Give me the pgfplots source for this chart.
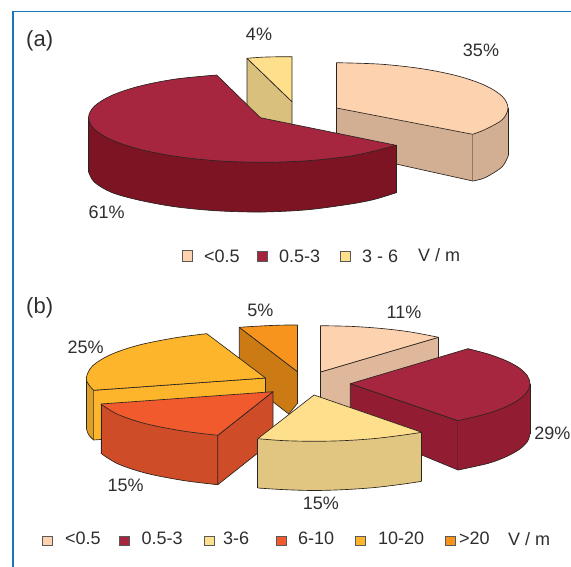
\documentclass[border=0pt]{standalone}
\usepackage{fontspec}
\setmainfont{Liberation Sans}
\usepackage{pgfplots}
\pgfplotsset{compat=1.18}
\definecolor{framec}{HTML}{1A75BB}
\definecolor{txt}{HTML}{2E2E2E}
\definecolor{edge}{HTML}{2A2420}
\definecolor{peach}{HTML}{FDD2AF}
\definecolor{peachA}{HTML}{D2AE92}
\definecolor{peachB}{HTML}{DFB89C}
\definecolor{wine}{HTML}{A5263E}
\definecolor{wineA}{HTML}{7D1423}
\definecolor{wineB}{HTML}{921D32}
\definecolor{straw}{HTML}{FDDF8C}
\definecolor{strawA}{HTML}{D9C07C}
\definecolor{strawB}{HTML}{E0C681}
\definecolor{vermil}{HTML}{F15A2C}
\definecolor{vermilB}{HTML}{CE4C27}
\definecolor{gold}{HTML}{FDB52B}
\definecolor{goldB}{HTML}{DDA024}
\definecolor{amber}{HTML}{F7941D}
\definecolor{amberB}{HTML}{CB7A14}
\pgfplotsset{
  % flat: body of a face; curve: its elliptical rim; rim: its straight edges
  flat/.style={fill=#1,draw=none,mark=none,forget plot},
  curve/.style={fill=#1,draw=edge,line width=0.65pt,smooth,tension=0.55,mark=none,forget plot},
  bulge/.style={fill=#1,draw=none,smooth,tension=0.55,mark=none,forget plot},
  outline/.style={fill=none,draw=edge,line width=0.65pt,smooth,tension=0.55,mark=none,forget plot},
  rim/.style={draw=edge,line width=0.65pt,line join=round,mark=none,forget plot},
  swatch/.style={fill=#1,draw=black!65,line width=0.9pt,mark=none,forget plot}
}
\tikzset{
  lbl/.style={font=\fontsize{18}{20}\selectfont,text=txt,inner sep=0pt},
  big/.style={font=\fontsize{22}{24}\selectfont,text=txt,inner sep=0pt,anchor=west}
}
\begin{document}
\begin{tikzpicture}
\useasboundingbox (0,0) rectangle (571pt,567pt);
\clip (0,0) rectangle (571pt,567pt);
\begin{axis}[at={(0,0)},anchor=south west,scale only axis,width=571pt,height=567pt,
  xmin=0,xmax=571,ymin=0,ymax=567,y dir=reverse,hide axis,clip=false]
% panel rule
\addplot[framec,line width=1.1pt,mark=none,forget plot] coordinates {(13,567) (13,11.8) (571,11.8)};

% ---------- panel (a): <0.5 35%, 0.5-3 61%, 3-6 4% ----------
% <0.5
\addplot[flat=peachA] coordinates {(336.5,108) (472.7,134.3) (472.7,181) (396,164) (336.5,150)} --cycle;
\addplot[rim] coordinates {(336.5,150) (336.5,108)};
\addplot[rim] coordinates {(336.5,150) (396,164) (472.7,181) (472.7,134.3)};
\addplot[flat=peachA] coordinates {(472.7,134.3) (508,108) (508.5,155) (502.2,166.7) (485,177.7) (472.7,181)} --cycle;
\addplot[curve=peachA] coordinates {(508.5,155) (502.2,166.7) (485,177.7) (472.7,181)};
\addplot[rim] coordinates {(508.5,108) (508.5,155)};
\addplot[flat=peach] coordinates {(336.5,62.7) (380.9,64.2) (422.3,68.8) (457.8,76) (485,85.4) (502.2,96.3) (508,108) (502.2,119.7) (485,129.5) (472.7,134.3) (336.5,108)} --cycle;
\addplot[curve=peach] coordinates {(336.5,62.7) (380.9,64.2) (422.3,68.8) (457.8,76) (485,85.4) (502.2,96.3) (508,108) (502.2,119.7) (485,129.5) (472.7,134.3)};
\addplot[rim] coordinates {(472.7,134.3) (336.5,108) (336.5,62.7)};
% 3-6
\addplot[flat=strawA] coordinates {(247,58.3) (292,101.7) (292,124) (260.4,117.7) (247,105)} --cycle;
\addplot[rim] coordinates {(247,105) (247,58.3) (292,101.7) (292,124)};
\addplot[flat=straw] coordinates {(247,58.3) (262,57.2) (277,56.8) (292,56.7) (292,101.7)} --cycle;
\addplot[curve=straw] coordinates {(247,58.3) (262,57.2) (277,56.8) (292,56.7)};
\addplot[rim] coordinates {(292,56.7) (292,101.7) (247,58.3)};
% 0.5-3
\addplot[flat=wineA] coordinates {(88.5,117.7) (88.5,171.7) (94.4,182.2) (111.8,192.5) (139.3,200.2) (175.3,206.8) (217.1,210.8) (262,212) (306.9,209.8) (348.8,204.3) (373.5,199.6) (396.2,192.7) (396.2,145.3) (262,140)} --cycle;
\addplot[curve=wineA] coordinates {(88.5,171.7) (94.4,182.2) (111.8,192.5) (139.3,200.2) (175.3,206.8) (217.1,210.8) (262,212) (306.9,209.8) (348.8,204.3) (373.5,199.6) (396.2,192.7)};
\addplot[rim] coordinates {(88.5,117.7) (88.5,171.7)};
\addplot[rim] coordinates {(396.2,145.3) (396.2,192.7)};
\addplot[flat=wine] coordinates {(216.7,75) (175.3,79.1) (139.3,86.2) (111.8,95.4) (94.4,106.2) (88.5,117.7) (94.4,129.2) (111.8,140) (139.3,149.2) (175.3,156.3) (217.1,160.8) (262,162.3) (306.9,160.8) (348.8,156.3) (373.5,151.2) (396.2,145.3) (260.4,117.7)} --cycle;
\addplot[bulge=wine] coordinates {(216.7,75) (175.3,79.1) (139.3,86.2) (111.8,95.4) (94.4,106.2) (88.5,117.7) (94.4,129.2) (111.8,140) (139.3,149.2)};
\addplot[bulge=wine] coordinates {(139.3,149.2) (175.3,156.3) (217.1,160.8) (262,162.3) (306.9,160.8) (348.8,156.3) (373.5,151.2) (396.2,145.3)};
\addplot[outline] coordinates {(216.7,75) (175.3,79.1) (139.3,86.2) (111.8,95.4) (94.4,106.2) (88.5,117.7) (94.4,129.2) (111.8,140) (139.3,149.2) (175.3,156.3) (217.1,160.8) (262,162.3) (306.9,160.8) (348.8,156.3) (373.5,151.2) (396.2,145.3)};
\addplot[rim] coordinates {(396.2,145.3) (260.4,117.7) (216.7,75)};

\addplot[swatch=peach] coordinates {(182,250.5) (192.5,250.5) (192.5,261) (182,261)} --cycle;
\addplot[swatch=wine] coordinates {(257.5,251) (267.5,251) (267.5,261.5) (257.5,261.5)} --cycle;
\addplot[swatch=straw] coordinates {(340.5,251) (350.5,251) (350.5,261.5) (340.5,261.5)} --cycle;

% ---------- panel (b): six classes, back slices first ----------
% <0.5
\addplot[flat=peachB] coordinates {(320.5,372) (438.5,337.3) (438.5,400) (320.5,412)} --cycle;
\addplot[rim] coordinates {(320.5,412) (320.5,372) (438.5,337.3) (438.5,400)};
\addplot[flat=peach] coordinates {(320.5,325.7) (351.6,326.4) (381.6,328.5) (409.9,331.9) (438.5,337.3) (320.5,372)} --cycle;
\addplot[curve=peach] coordinates {(320.5,325.7) (351.6,326.4) (381.6,328.5) (409.9,331.9) (438.5,337.3)};
\addplot[rim] coordinates {(438.5,337.3) (320.5,372) (320.5,325.7)};
% 0.5-3
\addplot[flat=wineB] coordinates {(350.3,383.7) (458,420.7) (458,470) (421.7,455) (350.3,430)} --cycle;
\addplot[rim] coordinates {(350.3,430) (350.3,383.7) (458,420.7) (458,470) (421.7,455)};
\addplot[flat=wineB] coordinates {(458,420.7) (530,383.7) (530,434) (527.3,441.7) (519.2,449.5) (505.9,456.8) (488,463.4) (458,470)} --cycle;
\addplot[curve=wineB] coordinates {(530,434) (527.3,441.7) (519.2,449.5) (505.9,456.8) (488,463.4) (458,470)};
\addplot[rim] coordinates {(530,383.7) (530,434)};
\addplot[flat=wine] coordinates {(468,348.7) (488,354) (505.9,360.6) (519.2,367.9) (527.3,375.7) (530,383.7) (527.3,391.7) (519.2,399.5) (505.9,406.8) (488,413.4) (458,420.7) (350.3,383.7)} --cycle;
\addplot[curve=wine] coordinates {(468,348.7) (488,354) (505.9,360.6) (519.2,367.9) (527.3,375.7) (530,383.7) (527.3,391.7) (519.2,399.5) (505.9,406.8) (488,413.4) (458,420.7)};
\addplot[rim] coordinates {(458,420.7) (350.3,383.7) (468,348.7)};
% >20
\addplot[flat=amberB] coordinates {(239.3,327.3) (297.5,371.7) (297.5,403.3) (288.8,414) (239.3,376)} --cycle;
\addplot[rim] coordinates {(239.3,376) (239.3,327.3) (297.5,371.7) (297.5,403.3) (288.8,414) (239.3,376)};
\addplot[flat=amber] coordinates {(239.3,327.3) (253.8,326.4) (268.5,325.6) (282.5,325.1) (297.5,325) (297.5,371.7)} --cycle;
\addplot[curve=amber] coordinates {(239.3,327.3) (253.8,326.4) (268.5,325.6) (282.5,325.1) (297.5,325)};
\addplot[rim] coordinates {(297.5,325) (297.5,371.7) (239.3,327.3)};
% 10-20
\addplot[flat=goldB] coordinates {(86.3,378) (93.6,390.3) (93.6,440) (90.2,437.7) (86.3,428)} --cycle;
\addplot[curve=goldB] coordinates {(86.3,428) (88.5,434.5) (93.6,440)};
\addplot[rim] coordinates {(86.3,378) (86.3,428)};
\addplot[flat=gold] coordinates {(93.6,390.3) (265.5,378) (265.5,428) (93.6,440)} --cycle;
\addplot[rim] coordinates {(93.6,440) (93.6,390.3) (265.5,378) (265.5,428) (93.6,440)};
\addplot[flat=gold] coordinates {(206.8,333.7) (175.9,337.7) (138.8,345.1) (110.3,354.8) (92.4,366) (86.3,378) (90.2,386.5) (93.6,390.3) (265.5,378)} --cycle;
\addplot[curve=gold] coordinates {(206.8,333.7) (175.9,337.7) (138.8,345.1) (110.3,354.8) (92.4,366) (86.3,378) (89,385) (93.6,390.3)};
\addplot[rim] coordinates {(93.6,390.3) (265.5,378) (206.8,333.7)};
% 6-10
\addplot[flat=vermilB] coordinates {(100.9,404) (118,414.5) (146.4,423.9) (183.5,431.1) (217.8,435.3) (217.8,484.7) (183.5,480.5) (146.4,473.3) (118,463.9) (100.9,453.3)} --cycle;
\addplot[curve=vermilB] coordinates {(100.9,453.3) (118,463.9) (146.4,473.3) (183.5,480.5) (217.8,484.7)};
\addplot[rim] coordinates {(100.9,404) (100.9,453.3)};
\addplot[flat=vermilB] coordinates {(217.8,435.3) (273,391.7) (273,441) (217.8,484.7)} --cycle;
\addplot[rim] coordinates {(273,441) (273,391.7) (217.8,435.3) (217.8,484.7) (273,441)};
\addplot[flat=vermil] coordinates {(273,391.7) (100.9,404) (118,414.5) (146.4,423.9) (183.5,431.1) (217.8,435.3)} --cycle;
\addplot[curve=vermil] coordinates {(100.9,404) (118,414.5) (146.4,423.9) (183.5,431.1) (217.8,435.3)};
\addplot[rim] coordinates {(217.8,435.3) (273,391.7) (100.9,404)};
% 3-6
\addplot[flat=strawB] coordinates {(257.8,438.7) (283.1,440.6) (314,441.3) (344.9,440.6) (374.9,438.5) (403,435.1) (421.7,432.3) (421.7,481.3) (403,484.1) (374.9,487.5) (344.9,489.6) (314,490.5) (283.1,489.6) (257.8,488)} --cycle;
\addplot[curve=strawB] coordinates {(257.8,488) (283.1,489.6) (314,490.5) (344.9,489.6) (374.9,487.5) (403,484.1) (421.7,481.3)};
\addplot[rim] coordinates {(257.8,438.7) (257.8,488)};
\addplot[rim] coordinates {(421.7,432.3) (421.7,481.3)};
\addplot[flat=straw] coordinates {(314,395) (421.7,432.3) (403,435.1) (374.9,438.5) (344.9,440.6) (314,441.3) (283.1,440.6) (257.8,438.7)} --cycle;
\addplot[curve=straw] coordinates {(421.7,432.3) (403,435.1) (374.9,438.5) (344.9,440.6) (314,441.3) (283.1,440.6) (257.8,438.7)};
\addplot[rim] coordinates {(257.8,438.7) (314,395) (421.7,432.3)};

\addplot[swatch=peach] coordinates {(42.6,536) (52.8,536) (52.8,545.7) (42.6,545.7)} --cycle;
\addplot[swatch=wine] coordinates {(119.5,536) (129,536) (129,545.7) (119.5,545.7)} --cycle;
\addplot[swatch=straw] coordinates {(204.7,536) (214,536) (214,545.7) (204.7,545.7)} --cycle;
\addplot[swatch=vermil] coordinates {(276.8,536) (286,536) (286,545.7) (276.8,545.7)} --cycle;
\addplot[swatch=gold] coordinates {(355.4,536) (365,536) (365,545.7) (355.4,545.7)} --cycle;
\addplot[swatch=amber] coordinates {(445.7,536) (455,536) (455,545.7) (445.7,545.7)} --cycle;

% labels
\node[big] at (axis cs:26,41) {(a)};
\node[lbl] at (axis cs:259,34) {4\%};
\node[lbl] at (axis cs:481,50) {35\%};
\node[lbl] at (axis cs:106.7,212) {61\%};
\node[lbl,anchor=west] at (axis cs:204,256) {<0.5};
\node[lbl,anchor=west] at (axis cs:279,256) {0.5-3};
\node[lbl,anchor=west] at (axis cs:362,256) {3 - 6};
\node[lbl,anchor=west] at (axis cs:418,255) {V / m};

\node[big] at (axis cs:26,308) {(b)};
\node[lbl] at (axis cs:260.4,310) {5\%};
\node[lbl] at (axis cs:404,312) {11\%};
\node[lbl] at (axis cs:85.6,347.7) {25\%};
\node[lbl,anchor=east] at (axis cs:570.5,433) {29\%};
\node[lbl] at (axis cs:125.6,485.7) {15\%};
\node[lbl] at (axis cs:320.8,503.3) {15\%};
\node[lbl,anchor=west] at (axis cs:64.8,538) {<0.5};
\node[lbl,anchor=west] at (axis cs:141.3,538) {0.5-3};
\node[lbl,anchor=west] at (axis cs:223,538) {3-6};
\node[lbl,anchor=west] at (axis cs:298,538) {6-10};
\node[lbl,anchor=west] at (axis cs:378,538) {10-20};
\node[lbl,anchor=west] at (axis cs:459,538) {>20};
\node[lbl,anchor=west] at (axis cs:508,539) {V / m};
\end{axis}
\end{tikzpicture}
\end{document}
